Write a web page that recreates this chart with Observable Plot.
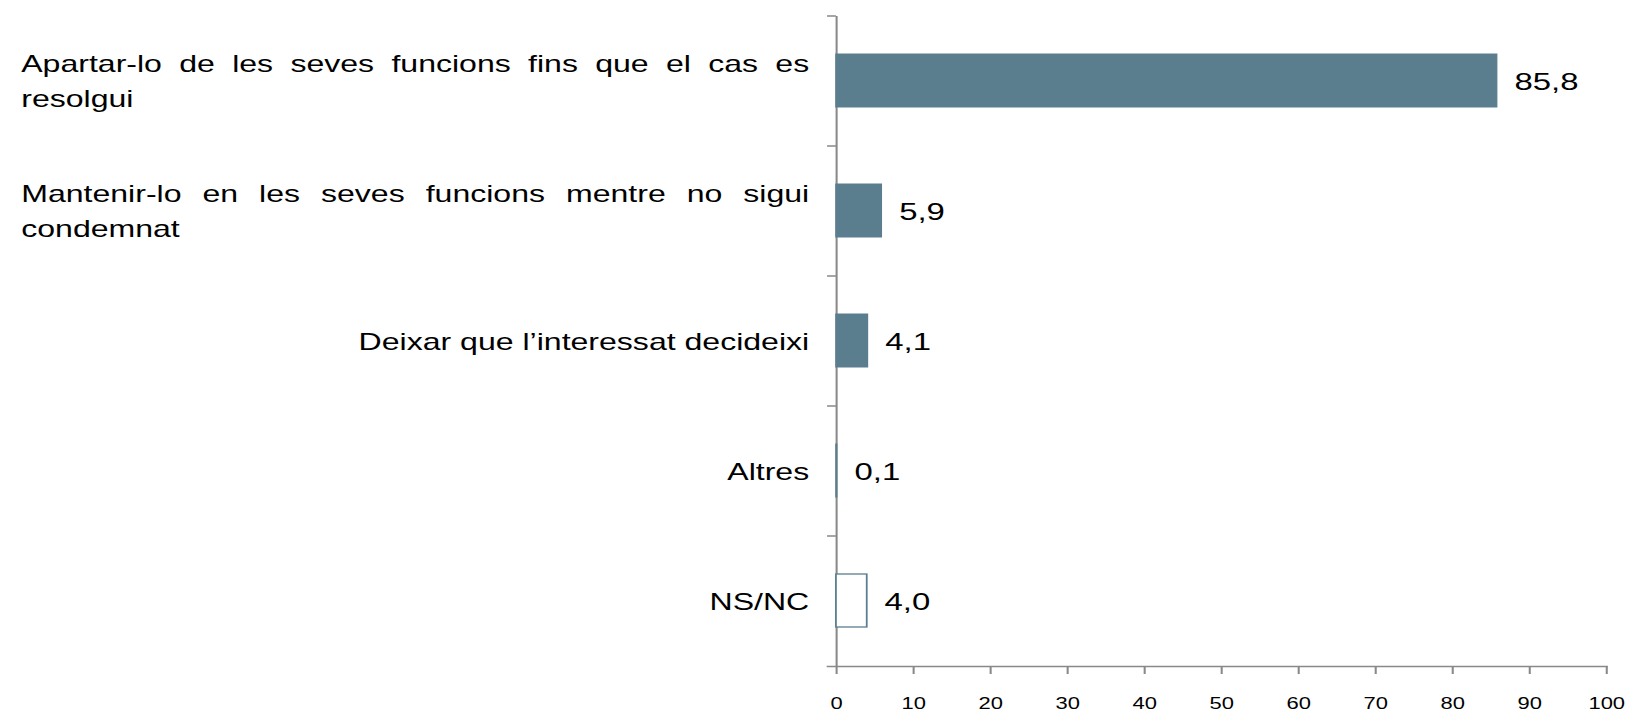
<!DOCTYPE html>
<html>
<head>
<meta charset="utf-8">
<script src="https://cdn.jsdelivr.net/npm/d3@7"></script>
<script src="https://cdn.jsdelivr.net/npm/@observablehq/plot@0.6"></script>
<style>
  html, body { margin: 0; padding: 0; background: #ffffff; }
  #chart { width: 1628px; height: 712px; overflow: hidden; }
</style>
</head>
<body>
<div id="chart"></div>
<script>
// ---- Data ----
const categories = [
  "Apartar-lo de les seves funcions fins que el cas es resolgui",
  "Mantenir-lo en les seves funcions mentre no sigui condemnat",
  "Deixar que l’interessat decideixi",
  "Altres",
  "NS/NC"
];
const values = [85.8, 5.9, 4.1, 0.1, 4.0];
const barKinds = ["solid", "solid", "solid", "solid", "outline"];
const labelLines = [
  ["Apartar-lo de les seves funcions fins que el cas es", "resolgui"],
  ["Mantenir-lo en les seves funcions mentre no sigui", "condemnat"],
  ["Deixar que l’interessat decideixi"],
  ["Altres"],
  ["NS/NC"]
];
const xTicks = [0, 10, 20, 30, 40, 50, 60, 70, 80, 90, 100];

// ---- Layout / style ----
const OUT_W = 1628, OUT_H = 712;
const W = 1188;                 // drawing width, stretched horizontally to OUT_W
const marginLeft = 610, marginRight = 16, marginTop = 16, marginBottom = 46;
const step = (OUT_H - marginTop - marginBottom) / categories.length;
const barColor = "#5b7e8f";
const axisColor = "#898989";
const fontFamily = "'Liberation Sans', Arial, Helvetica, sans-serif";
const labelLeft = 15;
const labelGap = 20;
const lineOffset = 17.5;
const textShift = 1.5;

const rows = categories.map((c, i) => ({
  category: c, value: values[i], kind: barKinds[i], lines: labelLines[i]
}));
const fmt = v => d3.format(".1f")(v).replace(".", ",");

const chart = Plot.plot({
  width: W,
  height: OUT_H,
  marginLeft, marginRight, marginTop, marginBottom,
  style: { fontFamily, fontSize: "16px", background: "white", color: "black" },
  x: { domain: [0, 100], label: null },
  y: { domain: categories, paddingInner: 0.59, paddingOuter: 0.295, label: null },
  marks: [
    Plot.ruleX([0], { stroke: axisColor, strokeWidth: 1.5 }),
    Plot.frame({ anchor: "bottom", stroke: axisColor, strokeWidth: 1.5, insetLeft: -6.5 }),
    Plot.axisY({ tickSize: 6.5, tickFormat: () => "", dy: -step / 2, stroke: axisColor, strokeWidth: 1.5, label: null }),
    Plot.axisX({ ticks: xTicks, tickSize: 8, tickPadding: 23, stroke: axisColor, strokeWidth: 1.5, fill: "black", fontSize: 16, label: null }),
    Plot.barX(rows.filter(d => d.kind === "solid"), { x: "value", y: "category", fill: barColor, stroke: barColor, strokeWidth: 1 }),
    Plot.barX(rows.filter(d => d.kind === "outline"), { x: "value", y: "category", fill: "white", stroke: barColor, strokeWidth: 1.3 }),
    // value labels
    Plot.text(rows, { x: "value", y: "category", text: d => fmt(d.value), textAnchor: "start", dx: 12.5, dy: textShift, fontSize: 24, fill: "black" }),
    // single-line category labels (right aligned)
    Plot.text(rows.filter(d => d.lines.length === 1), { y: "category", text: d => d.lines[0], frameAnchor: "left", textAnchor: "end", dx: -labelGap, dy: textShift, fontSize: 23.4, fill: "black" }),
    // wrapped labels: first (justified) line
    Plot.text(rows.filter(d => d.lines.length > 1), { y: "category", text: d => d.lines[0], frameAnchor: "left", textAnchor: "start", dx: labelLeft - marginLeft, dy: -lineOffset + textShift, fontSize: 23.4, fill: "black" }),
    // wrapped labels: second line
    Plot.text(rows.filter(d => d.lines.length > 1), { y: "category", text: d => d.lines[1], frameAnchor: "left", textAnchor: "start", dx: labelLeft - marginLeft, dy: lineOffset + textShift, fontSize: 23.4, fill: "black" })
  ]
});

document.getElementById("chart").append(chart);
chart.setAttribute("width", OUT_W);
chart.setAttribute("height", OUT_H);
chart.setAttribute("preserveAspectRatio", "none");
chart.style.width = OUT_W + "px";
chart.style.height = OUT_H + "px";
chart.style.maxWidth = "none";

// justify the first line of wrapped labels
const target = (marginLeft - labelGap) - labelLeft;
const firstLines = new Set(labelLines.filter(l => l.length > 1).map(l => l[0]));
chart.querySelectorAll("text").forEach(t => {
  if (firstLines.has(t.textContent)) {
    const w = t.getComputedTextLength();
    const n = (t.textContent.match(/ /g) || []).length;
    if (n > 0 && target > w) t.style.wordSpacing = ((target - w) / n) + "px";
  }
});
</script>
</body>
</html>
